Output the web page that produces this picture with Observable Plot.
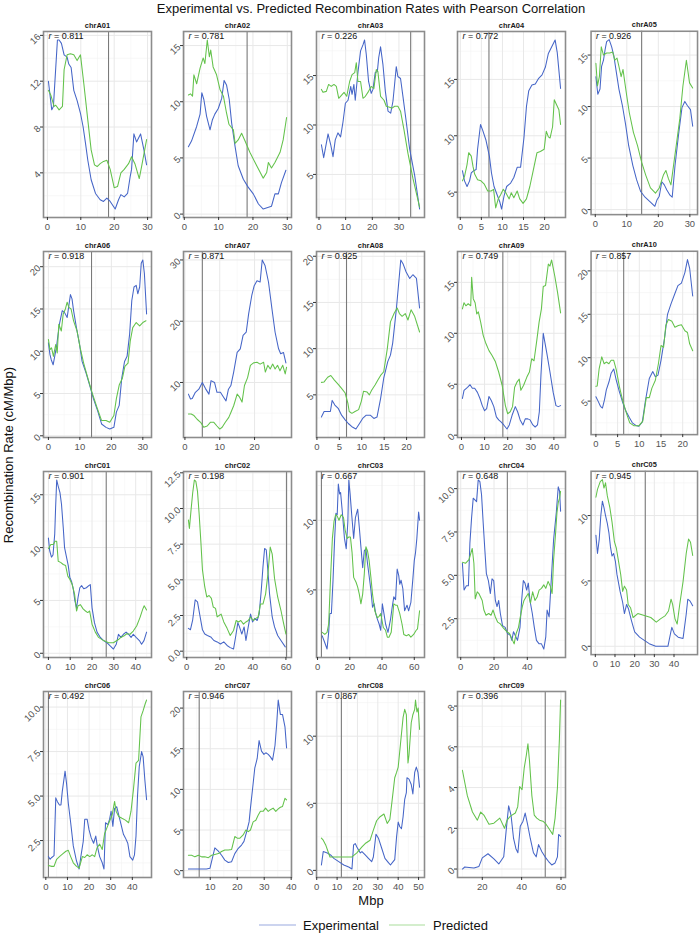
<!DOCTYPE html>
<html><head><meta charset="utf-8">
<script src="https://cdn.jsdelivr.net/npm/d3@7"></script>
<script src="https://cdn.jsdelivr.net/npm/@observablehq/plot@0.6"></script>
<style>
body{margin:0;background:#fff;font-family:"Liberation Sans",Arial,Helvetica,sans-serif;}
#root{position:relative;width:700px;height:936px;overflow:hidden;background:#fff;}
.panel{position:absolute;}
#overlay{position:absolute;left:0;top:0;}
</style></head><body><div id="root"></div>
<script>
// ---------------- DATA ----------------
const chroms = ["chrA01","chrA02","chrA03","chrA04","chrA05","chrA06","chrA07","chrA08","chrA09","chrA10",
                "chrC01","chrC02","chrC03","chrC04","chrC05","chrC06","chrC07","chrC08","chrC09"];
const pearsonR = ["0.811","0.781","0.226","0.772","0.926","0.918","0.871","0.925","0.749","0.857",
                  "0.901","0.198","0.667","0.648","0.945","0.492","0.946","0.867","0.396"];
const centromere = [18.3,18.3,34.4,6.8,14.7,13.7,5.0,6.6,17.9,6.4,26.5,60.4,2.4,28,25.4,1.2,5.9,12.1,52];

const xTickVals = [[0,10,20,30],[0,10,20,30],[0,10,20,30],[0,5,10,15,20],[0,10,20,30],
                   [0,10,20,30],[0,10,20],[0,5,10,15,20],[0,10,20,30,40],[0,5,10,15,20],
                   [0,10,20,30,40],[0,20,40,60],[0,20,40,60],[0,20,40],[0,10,20,30,40],
                   [0,10,20,30,40],[0,10,20,30,40],[0,10,20,30,40,50],[20,40,60]];
const yTickVals = [[4,8,12,16],[0,5,10,15],[5,10,15],[5,10,15],[0,5,10,15],
                   [0,5,10,15,20],[10,20,30],[5,10,15,20],[0,5,10,15],[5,10,15,20],
                   [0,5,10,15],[0,2.5,5,7.5,10,12.5],[5,10],[2.5,5,7.5,10],[0,5,10],
                   [2.5,5,7.5,10],[0,5,10,15,20],[0,5,10],[0,2,4,6,8]];
const yTickDecimals = [0,0,0,0,0,0,0,0,0,0,0,1,0,1,0,1,0,0,0];

const seriesNames = ["Experimental","Predicted"];

// [Mbp, cM/Mbp]
const A01_exp = [[0.3,12.0],[1.3,9.5],[1.8,9.8],[3.0,15.6],[3.5,15.6],[4.2,15.3],[5,14.3],[5.9,14.1],[6.4,13.5],[7.1,13.2],[7.9,11.2],[8.9,10.3],[9.9,9.2],[10.7,8.0],[11.4,6.6],[12.1,5.1],[13.1,3.4],[14.4,2.2],[15.8,1.65],[16.8,1.5],[17.8,1.8],[18.8,1.5],[20.3,0.84],[21.3,1.65],[22,2.1],[23,1.9],[24,2.2],[24.8,3.7],[25.2,4.3],[25.9,7.4],[26.7,6.7],[27.9,7.4],[28.9,6.0],[29.7,4.7]];
const A01_pred = [[0.3,11.2],[1,10.8],[2,9.8],[2.5,9.9],[3.5,9.5],[4.5,9.8],[5,13.0],[5.9,14.3],[6.9,14.4],[7.9,14.3],[8.9,13.8],[9.9,14.3],[10.9,11.8],[12.1,8.6],[13.1,6.0],[14.1,4.7],[14.9,4.55],[15.8,4.8],[16.8,5.0],[17.8,5.1],[18.8,4.3],[20,2.7],[21,2.8],[22,4.0],[23,4.3],[24.3,4.8],[25.2,5.4],[26.2,4.8],[27.5,3.5],[28.2,4.55],[29.7,6.9]];

const A02_exp = [[1.2,6.0],[2.1,6.5],[3.6,7.8],[4.6,8.9],[5.1,10.8],[5.7,10.2],[6.5,8.7],[7.5,7.5],[8.2,8.4],[8.9,8.9],[9.9,9.4],[10.9,10.3],[11.6,11.9],[12.3,11.5],[13.1,10.2],[13.8,8.1],[14.8,6.0],[15.7,4.3],[17.2,3.1],[18.6,2.4],[20.1,1.8],[21.6,0.9],[23,0.45],[25.4,0.7],[26.4,1.8],[27.4,1.8],[28.3,2.8],[29.6,3.9]];
const A02_pred = [[1.2,10.6],[1.8,10.7],[2.4,10.5],[2.8,12.4],[3.6,11.6],[4.6,13.0],[5.5,13.9],[6,13.4],[6.7,15.5],[7.3,14.0],[7.7,14.6],[8.4,13.1],[9.4,12.4],[10.4,11.1],[11.4,10.5],[12.3,9.0],[13,8.0],[14.3,7.5],[14.8,6.3],[15.7,6.6],[16.7,7.2],[17.7,6.5],[19.1,5.5],[21.1,4.3],[23,3.2],[24,3.7],[24.5,4.6],[25.4,4.1],[26.4,4.6],[27.9,5.5],[28.8,6.6],[29.8,8.6]];

const A03_exp = [[0.9,8.0],[1.75,6.7],[3.4,9.1],[4.4,8.0],[5.25,6.8],[6.1,8.5],[7.1,9.2],[8.1,8.8],[9,10.3],[9.9,12.2],[10.9,12.5],[11.9,13.9],[12.4,13.1],[13.1,14.1],[13.6,12.5],[14.6,15.3],[15.6,17.5],[16.5,18.1],[17.1,18.6],[17.75,17.1],[18.6,14.4],[19.6,13.2],[20.25,13.6],[21.1,15.3],[21.9,15.4],[22.4,16.8],[23.1,17.9],[24,16.1],[24.9,13.4],[25.9,11.4],[26.9,11.2],[27.75,12.4],[28.4,14.2],[29,15.9],[29.6,14.9],[30.6,14.7],[31.5,12.9],[32.75,10.3],[34,7.6],[35.9,4.9],[37.75,1.5]];
const A03_pred = [[0.9,13.6],[1.5,13.3],[2.75,13.4],[3.6,14.1],[4.6,13.9],[5.6,14.1],[6.5,13.9],[7.4,12.7],[8.4,13.0],[9.4,13.3],[10.4,12.9],[11.5,14.4],[12.4,15.1],[13.4,15.3],[14,16.3],[14.6,14.4],[15.6,14.4],[16.5,12.7],[17.4,12.9],[18.6,13.4],[19.6,13.9],[20.6,13.7],[21.5,15.6],[22.1,15.4],[23.1,12.9],[24.4,12.5],[25.25,11.9],[26.5,11.8],[27.4,11.7],[28.4,11.9],[29.6,11.9],[30.6,11.4],[31.9,9.5],[33.4,7.1],[35.25,4.6],[37.75,1.7]];

const A04_exp = [[0.5,6.9],[1.0,6.0],[1.6,5.5],[2.2,6.0],[2.6,6.7],[3.2,6.9],[3.75,7.0],[4.1,8.8],[4.8,11.0],[5.3,10.5],[6.1,9.6],[6.9,8.2],[7.4,6.7],[8.0,5.5],[8.8,4.7],[9.4,4.1],[9.8,3.5],[10.4,4.7],[11,5.5],[11.95,5.8],[12.7,6.3],[13.5,7.2],[14.3,7.2],[15.1,9.8],[15.7,12.6],[16.25,14.0],[17,14.5],[17.8,14.6],[18.6,15.1],[19.4,15.4],[20.2,16.1],[20.9,17.3],[21.7,17.9],[22.5,18.5],[23,17.4],[23.8,14.2]];
const A04_pred = [[0.5,6.0],[1.0,6.4],[1.6,7.45],[2.0,8.5],[2.6,8.2],[3.0,7.3],[3.4,6.6],[4.1,6.1],[4.9,6.0],[5.7,5.7],[6.5,5.1],[7.3,5.1],[7.9,5.25],[8.4,3.6],[9,4.4],[9.6,4.8],[10.2,5.25],[10.8,4.95],[11.6,4.4],[12.1,4.95],[12.7,4.5],[13.5,5.1],[14.1,4.4],[14.9,4.0],[15.7,4.4],[16.5,5.5],[17.3,6.9],[18.2,8.5],[19,8.6],[19.9,8.8],[20.4,10.4],[20.9,9.9],[21.3,9.8],[21.9,10.8],[22.3,13.2],[22.9,12.7],[23.4,12.3],[23.8,11.0]];

const A05_exp = [[0.2,12.9],[0.8,11.2],[1.5,11.7],[2,13.9],[2.6,14.5],[3.1,15.5],[3.6,16.3],[4.4,16.5],[5.2,15.8],[5.9,14.9],[6.7,13.3],[7.5,11.7],[8.6,10.1],[9.6,8.3],[10.6,6.2],[11.9,4.3],[13.1,2.9],[14.4,1.75],[15.8,1.2],[17.5,0.73],[18.9,0.32],[19.6,0.96],[20.3,1.3],[21.1,2.7],[21.9,2.4],[22.7,1.9],[23.7,1.4],[24.4,1.2],[25.3,4.3],[26.5,7.5],[27.5,9.9],[28.4,10.5],[29.2,10.1],[30.2,9.7],[30.9,8.1]];
const A05_pred = [[0.2,14.2],[0.7,12.0],[1.3,12.9],[1.9,15.8],[2.6,15.0],[3.6,15.2],[4.6,15.2],[5.5,15.3],[6.2,14.5],[6.9,14.7],[7.5,13.9],[8.2,12.9],[8.8,13.6],[9.3,12.5],[10,11.0],[10.8,9.4],[12.1,7.5],[13.4,6.2],[14.7,4.6],[16,3.35],[17.5,2.1],[19.1,1.6],[20.3,2.1],[21.6,3.35],[22.4,3.8],[23.2,3.0],[24,2.4],[24.7,4.0],[25.8,6.5],[26.8,8.8],[27.8,12.0],[28.9,14.5],[29.9,12.3],[30.9,11.8]];

const A06_exp = [[0,11.0],[0.5,9.6],[0.9,9.0],[1.5,8.4],[2,9.4],[2.6,10.6],[3,11.8],[3.6,13.4],[4.4,14.8],[5.1,14.6],[5.96,14.0],[6.5,15.4],[7,16.7],[7.5,16.2],[8,14.8],[8.9,12.8],[9.9,10.8],[10.7,8.8],[12,7.4],[13.1,6.0],[14.3,4.4],[15.6,3.0],[16.9,1.4],[18.3,1.0],[19.5,0.8],[20.8,1.0],[21.6,2.8],[22.5,3.6],[23.3,6.8],[24.2,8.8],[25,9.4],[25.8,12.0],[26.5,16.0],[27.2,17.6],[27.9,17.8],[28.4,16.8],[29,17.6],[29.5,20.4],[30,20.8],[30.5,19.2],[31.2,14.4]];
const A06_pred = [[0,11.4],[0.5,10.2],[1,10.4],[1.6,9.4],[2.3,10.8],[2.8,9.8],[3.3,13.2],[4.1,12.4],[4.7,14.4],[5.4,15.0],[5.96,15.8],[6.5,15.2],[7.2,15.0],[8,13.6],[9.1,12.4],[10.1,10.4],[11.2,8.6],[12.4,7.0],[13.8,5.2],[15.4,3.4],[16.9,1.8],[18.3,1.8],[19.5,1.6],[20.8,2.4],[21.6,4.4],[22.5,6.0],[23.5,6.8],[24.3,8.2],[25.3,8.6],[26,11.2],[26.8,12.8],[27.9,13.4],[29,13.0],[30,13.4],[31,13.6]];

const A07_exp = [[1,8.1],[1.6,7.3],[2.1,7.4],[3,8.4],[4,8.9],[5,10.0],[5.9,9.0],[6.9,8.1],[7.5,10.3],[8.5,10.0],[9.2,8.4],[10.2,8.4],[11.1,7.6],[11.8,7.0],[12.5,8.9],[13.2,9.5],[14,11.7],[15,14.9],[15.9,15.5],[16.7,17.7],[17.6,18.2],[18.3,21.2],[19.2,24.2],[19.9,25.8],[20.7,26.6],[21.6,26.4],[22.2,30.0],[23,29.1],[24,26.4],[25,22.0],[25.9,18.2],[26.9,15.5],[27.5,14.7],[28.3,14.9],[29,13.2]];
const A07_pred = [[1,4.85],[1.8,4.85],[2.6,4.6],[3.5,4.0],[4.5,3.5],[5.4,2.7],[6.4,2.9],[7.3,3.5],[8.3,3.5],[9.2,2.9],[10,2.4],[10.7,2.7],[11.6,3.5],[12.6,4.3],[13.2,5.1],[14,6.2],[15,8.1],[15.7,7.6],[16.4,6.8],[17.1,9.5],[18,10.8],[18.8,12.8],[19.7,13.2],[20.7,13.3],[21.6,13.0],[22.6,13.3],[23.1,11.7],[23.8,12.8],[24.5,12.2],[25.2,13.0],[25.9,12.2],[26.6,12.8],[27.3,11.9],[28.1,12.8],[28.8,11.4],[29.2,12.5]];

const A08_exp = [[1.0,2.6],[1.6,3.2],[2.4,3.2],[3.0,3.2],[3.4,4.4],[4.0,3.9],[4.8,3.5],[5.5,2.8],[6.3,2.3],[7.0,1.9],[7.8,1.55],[8.7,1.3],[9.5,1.9],[10.2,2.45],[11,2.8],[11.9,2.8],[12.7,2.45],[13.4,2.6],[14.2,4.6],[14.9,6.8],[15.8,8.6],[16.4,9.3],[16.9,10.6],[17.7,14.2],[18.7,19.6],[19.2,19.2],[19.9,18.3],[20.7,17.6],[21.4,18.0],[22.2,17.6],[22.9,14.4]];
const A08_pred = [[1.0,6.35],[1.6,6.4],[2.4,6.9],[3.1,7.1],[3.9,6.6],[4.8,6.1],[5.5,5.7],[6.3,5.2],[6.9,4.1],[7.2,3.2],[7.8,3.0],[8.5,3.2],[9.3,3.4],[9.9,4.3],[10.4,5.4],[11.2,5.3],[11.7,5.0],[12.2,5.5],[13,6.1],[13.6,6.6],[14.2,7.1],[14.9,7.5],[15.7,10.0],[16.4,12.9],[17.2,13.8],[17.9,14.4],[18.4,13.8],[19,13.5],[19.7,13.8],[20.3,13.1],[21,14.2],[21.8,13.5],[22.9,11.8]];

const A09_exp = [[0.4,3.6],[1.1,4.4],[2.6,4.7],[3.7,4.95],[4.7,4.6],[5.7,4.6],[6.9,4.2],[8,3.6],[9,2.9],[10,2.4],[10.9,2.6],[11.9,3.8],[12.9,3.4],[14,2.8],[15.1,1.8],[16.1,1.5],[17.1,1.3],[18.3,1.0],[19.7,0.6],[20.7,1.0],[21.9,1.95],[23.3,2.8],[24.3,2.3],[25.4,1.5],[26.6,1.0],[27.6,1.6],[28.7,1.6],[29.7,1.5],[30.9,1.0],[31.9,0.8],[32.9,1.0],[33.7,2.3],[34.4,5.9],[35.4,10.0],[36.9,8.1],[38.3,6.2],[39.7,4.2],[40.9,2.9],[41.9,2.8],[42.9,2.9]];
const A09_pred = [[0.4,12.4],[1.1,13.0],[1.9,12.7],[2.9,12.9],[4,12.7],[4.4,15.5],[5.1,13.4],[5.9,13.0],[6.6,11.9],[7.3,12.1],[8.3,11.1],[9.4,9.8],[10.4,9.1],[11.9,8.3],[13.3,7.8],[14.7,7.2],[16.1,6.2],[17.6,4.9],[19,2.9],[20,2.1],[21.1,2.3],[22.1,2.8],[23,4.7],[24,5.2],[25,5.5],[25.7,4.4],[26.9,4.9],[28.3,5.7],[29.4,6.2],[30.4,7.5],[31.4,7.3],[32.6,9.3],[33.6,11.1],[34.6,12.4],[35.4,14.6],[36.4,14.7],[37.6,16.8],[38.3,16.6],[39,17.2],[40.4,15.6],[41.6,14.0],[42.9,12.0]];

const A10_exp = [[0,5.5],[0.5,5.0],[1.05,4.4],[1.5,4.2],[2,5.2],[2.4,6.3],[3,7.2],[3.5,8.2],[4.1,8.7],[4.7,7.4],[5.4,6.1],[6.2,4.8],[6.9,3.85],[7.7,3.1],[8.4,2.5],[9.2,2.2],[9.9,2.1],[10.7,2.6],[11.4,5.0],[12.3,7.6],[13.1,8.4],[13.7,7.8],[14.3,8.0],[15,9.7],[15.8,12.2],[16.5,15.0],[17.3,16.2],[18.2,17.4],[18.9,18.3],[19.7,18.6],[20.5,19.8],[21.1,21.3],[21.6,20.3],[22.3,17.1]];
const A10_pred = [[0,6.7],[0.3,6.75],[0.75,8.75],[1.35,10.1],[1.9,9.3],[2.4,9.5],[3,9.3],[3.5,9.7],[4.1,9.7],[4.7,8.6],[5.4,6.7],[6.2,5.0],[7.1,3.5],[7.8,2.5],[8.8,2.15],[9.9,2.15],[10.8,2.7],[11.6,5.4],[12.3,5.4],[12.9,6.5],[13.7,7.4],[14.4,9.3],[15,11.4],[15.6,11.2],[16.1,13.7],[16.7,14.4],[17.5,14.2],[18.2,13.5],[19,13.7],[19.7,13.8],[20.5,13.1],[21.1,12.9],[21.6,11.6],[22.3,10.8]];

const C01_exp = [[0,10.9],[0.6,9.7],[1.4,9.1],[2.1,9.3],[2.9,11.3],[3.3,13.8],[3.8,16.4],[4.5,15.8],[5.3,15.2],[6,14.1],[6.8,11.9],[7.4,10.0],[8.2,9.2],[9.1,8.3],[9.8,7.2],[10.6,6.8],[11.4,6.1],[12.1,5.0],[12.9,4.3],[13.6,5.3],[14.4,6.2],[15.2,6.4],[16.2,6.1],[17.4,6.2],[18.5,6.4],[19.2,6.5],[20,4.3],[21.1,2.9],[22.3,2.0],[23.8,1.5],[25.3,1.2],[26.8,1.0],[28.3,0.7],[29.8,0.4],[31.1,0.85],[32.1,1.8],[33.2,1.5],[34.4,1.8],[35.6,2.0],[36.7,1.8],[37.9,1.5],[38.9,1.8],[40.2,1.5],[41.7,1.2],[42.7,0.85],[43.8,1.2],[45,2.0]];
const C01_pred = [[0,9.9],[1.1,10.3],[2.3,10.3],[3,10.6],[3.8,10.6],[4.5,8.7],[5.6,8.6],[6.8,8.4],[7.9,8.3],[8.9,7.3],[9.8,7.0],[10.9,6.5],[12,5.6],[12.9,4.0],[13.6,4.5],[14.7,4.6],[15.9,4.2],[17,4.0],[18,3.85],[18.9,4.0],[20,2.75],[21.5,2.0],[23,1.5],[25.3,1.2],[27.6,1.0],[29.8,1.0],[32.1,1.3],[33.2,1.5],[34.7,1.65],[35.9,1.85],[37.4,1.8],[38.9,2.1],[40.5,2.6],[42,3.4],[43.2,4.15],[43.9,4.5],[45,4.1]];

const C02_exp = [[1,1.6],[2.2,1.5],[3.6,2.2],[5.1,3.6],[6.5,3.45],[8.1,2.4],[9.5,1.5],[10.9,1.2],[12.5,1.1],[14.5,1.0],[16.4,0.75],[18.4,0.65],[20.4,0.5],[22.4,0.65],[24.4,0.4],[26.3,0.25],[28.3,0.15],[29.7,1.1],[30.9,2.0],[31.9,1.7],[33.3,1.2],[34.7,1.7],[35.8,0.75],[37.2,1.7],[38.6,2.6],[39.8,2.05],[41.2,2.3],[42.6,2.15],[43.8,2.6],[45.1,4.3],[46.1,5.9],[47.1,7.2],[48.1,7.1],[49.1,5.6],[50.1,4.0],[51.7,2.4],[53.1,1.7],[55,1.1],[57,0.75],[59.6,0.3]];
const C02_pred = [[1,9.2],[1.6,8.6],[2.6,9.9],[3.6,11.1],[4.6,12.0],[5.5,11.9],[6.5,11.2],[7.5,9.6],[8.5,7.75],[9.5,5.7],[10.9,4.5],[12.1,3.8],[13.5,3.9],[14.9,3.7],[16,3.1],[17.4,3.0],[18.4,2.4],[19.6,2.5],[20.8,2.6],[22.4,2.05],[24.4,1.6],[26.3,1.1],[28.3,1.45],[29.9,2.15],[31.3,2.05],[32.7,2.15],[34.3,1.9],[35.8,2.05],[37.2,2.15],[38.6,2.4],[40.2,2.15],[41.8,2.3],[43.2,2.4],[44.6,3.3],[46.1,3.3],[47.7,4.0],[49.1,5.4],[50.5,7.3],[51.7,6.8],[53.1,5.1],[55,3.8],[57,2.85],[58.4,2.05],[60,1.2]];

const C03_exp = [[2.9,1.7],[4.5,1.2],[5.9,0.75],[6.9,1.95],[7.6,3.3],[8.6,3.3],[9.6,5.7],[10.6,8.65],[11.4,10.5],[12.2,10.4],[12.9,12.6],[13.7,11.9],[14.3,12.0],[15.3,10.7],[16.7,8.7],[17.8,7.95],[18.8,9.9],[19.4,12.9],[20.2,11.9],[21.2,10.4],[22.4,8.7],[23.5,10.2],[24.9,10.8],[25.9,9.5],[26.9,8.1],[28,6.6],[29,7.8],[30,7.95],[31,6.9],[32,6.0],[33.1,5.0],[34.1,3.75],[35.1,4.0],[36.1,3.3],[37.1,2.9],[38.2,2.55],[39.2,2.1],[40.2,4.0],[41.2,3.3],[42.2,2.55],[43.7,1.95],[45.3,2.9],[46.3,3.75],[47.3,4.5],[48.4,4.3],[49.4,6.5],[50.4,6.0],[51,5.4],[51.8,5.7],[52.9,5.1],[54,3.5],[55.5,3.9],[56.5,3.5],[57.9,4.1],[59.2,5.9],[60,7.1],[60.8,7.7],[61.6,8.7],[62.7,10.6],[63.3,10.0]];
const C03_pred = [[2.9,1.95],[4.5,1.8],[5.9,1.95],[6.9,2.55],[8.2,6.2],[9.2,8.7],[10.2,9.9],[11.2,10.4],[12.2,10.3],[13.3,10.0],[14.7,10.4],[16.1,10.2],[17.1,9.3],[18.4,8.7],[19.4,8.8],[20.4,8.8],[21.4,7.7],[22.4,5.9],[23.9,5.55],[24.9,5.2],[25.9,4.7],[26.9,4.0],[28,4.7],[29,6.15],[30,8.1],[31,7.8],[32,7.1],[33.1,5.9],[34.1,4.7],[35.5,3.5],[37.1,3.0],[38.2,3.1],[39.2,3.3],[40.8,2.3],[42.2,2.1],[43.3,1.6],[44.3,1.6],[45.7,1.95],[47.3,4.0],[48.4,3.9],[49.4,3.9],[51,3.3],[52.4,2.55],[53.5,1.8],[55.1,1.7],[56.5,1.8],[57.9,1.6],[59.6,1.8],[61.2,2.1],[62,2.2],[63.3,3.5]];

const C04_exp = [[1,5.7],[2,4.15],[3.4,4.4],[4.6,4.4],[5.5,6.85],[6.5,8.3],[7.5,9.45],[8.5,9.35],[9.5,9.25],[10.5,10.5],[11.5,10.4],[12.5,9.65],[13.5,8.0],[14.5,6.45],[15.4,5.1],[16.6,4.7],[17.8,3.95],[18.8,4.8],[19.8,4.7],[20.8,3.55],[21.8,3.2],[22.8,3.55],[23.8,2.8],[25.1,2.1],[26.7,2.0],[28.1,1.65],[29.7,1.55],[30.7,1.25],[31.7,1.75],[32.7,1.55],[34.1,1.25],[35.6,2.0],[36.6,3.55],[37.6,4.7],[38.6,4.55],[39.6,4.15],[40.6,4.55],[41.6,3.55],[43,2.8],[44.2,2.0],[45.5,1.25],[47.1,1.05],[48.5,1.05],[49.9,0.75],[51.1,1.45],[51.9,3.0],[53.1,2.6],[54.5,4.9],[55.8,7.05],[57.4,8.6],[58.6,10.1],[59.4,9.85],[60,8.7]];
const C04_pred = [[1,5.75],[2.97,5.7],[4.95,5.9],[6.9,6.55],[7.9,5.7],[8.7,3.65],[9.9,4.05],[10.9,3.95],[11.9,3.75],[12.9,3.55],[13.9,3.0],[15.2,2.7],[16.8,2.8],[18.2,2.7],[19.4,3.0],[20.8,2.6],[22.2,2.3],[23.8,2.2],[25.7,1.95],[27.7,1.75],[29.3,1.65],[30.7,1.35],[32.1,1.05],[33.3,1.65],[34.7,2.0],[35.6,2.5],[37,3.2],[38,3.55],[39.2,3.75],[40.6,3.95],[41.9,3.4],[43.2,4.05],[44.6,3.55],[45.9,3.75],[47.1,4.15],[48.5,4.25],[49.9,4.45],[51.1,4.25],[52.5,4.65],[53.9,4.35],[54.9,3.95],[55.8,5.9],[57,7.45],[57.8,8.6],[58.6,9.2],[59.4,9.45],[60,9.85]];

const C05_exp = [[0.3,8.5],[1.1,7.1],[2,8.2],[2.8,10.0],[3.6,11.1],[4.4,10.6],[5.2,10.0],[6.1,9.4],[6.9,8.7],[7.7,7.6],[8.5,6.9],[9.3,7.1],[10.2,6.5],[11,5.5],[12.6,4.2],[13.9,3.35],[14.8,2.5],[15.9,3.2],[16.9,2.85],[18.4,1.95],[20,1.1],[22.5,0.7],[24.9,0.45],[27.4,0.2],[30.7,0.0],[33.9,0.0],[36.9,0.0],[38.4,1.1],[38.9,1.45],[40.2,0.95],[42.1,0.7],[44.6,0.6],[46.2,2.45],[47,3.6],[48.2,3.45],[49.5,3.1]];
const C05_pred = [[0.3,11.4],[1.1,12.0],[2.5,12.6],[3.6,12.75],[4.4,12.1],[5.2,12.5],[6.1,11.5],[7.4,10.6],[8.5,9.5],[9.7,8.0],[10.7,7.5],[11.8,6.5],[12.9,5.5],[13.9,4.2],[14.8,4.6],[15.9,4.3],[16.7,3.2],[17.9,2.95],[19.2,2.2],[21.6,2.5],[24.9,2.35],[28.2,2.2],[31,1.85],[33.1,2.1],[35.6,2.35],[37.2,2.7],[38.5,3.6],[39.3,3.2],[40.5,2.1],[41.6,1.7],[42.9,3.2],[44.6,4.95],[46.2,7.1],[47.4,8.2],[48.4,7.95],[49.5,6.95]];

const C06_exp = [[1.2,1.6],[2,1.45],[2.75,1.55],[3.8,1.65],[4.6,4.9],[5.3,4.7],[6.3,4.5],[7,4.5],[7.6,5.25],[8.9,6.4],[9.6,5.7],[10.4,4.6],[11.5,3.5],[12.7,2.2],[14.2,1.35],[15.4,0.9],[16.2,1.6],[17.3,2.45],[18,3.7],[19.1,3.7],[20,3.1],[21,2.65],[22.1,2.35],[23.1,2.75],[23.8,2.2],[24.9,1.6],[26.1,1.25],[26.9,0.9],[27.6,3.5],[28.7,3.4],[29.5,3.7],[30.2,4.15],[31,3.3],[31.8,4.3],[32.8,4.4],[33.7,3.95],[34.8,3.4],[35.9,2.85],[36.8,2.65],[37.9,2.35],[38.9,1.6],[40.2,1.4],[41,1.7],[41.7,2.75],[42.4,5.0],[43.2,6.65],[44.3,7.5],[45,7.2],[45.8,5.9],[46.6,4.8]];
const C06_pred = [[1.2,1.1],[2.75,1.05],[3.8,1.05],[5,1.45],[6.3,1.6],[7.8,1.75],[9.3,1.9],[10.4,1.95],[11.5,1.6],[12.7,1.25],[14.2,1.05],[15.4,0.95],[16.9,1.6],[18,1.55],[19.1,1.7],[20.3,1.6],[21.5,1.7],[22.6,1.6],[23.7,2.1],[24.9,2.3],[26.1,2.0],[27.2,2.9],[28.2,3.2],[29.5,3.6],[30.7,3.95],[31.8,4.7],[32.5,4.15],[33.7,3.85],[35.2,3.75],[36.8,3.65],[38.3,3.5],[39.4,4.15],[40.5,5.35],[41.7,6.85],[42.9,7.0],[44,9.45],[45,9.8],[46,10.2],[46.6,10.4]];

const C07_exp = [[1.9,0.2],[3.7,0.2],[6.2,0.2],[8.6,0.2],[9.9,0.3],[11.7,2.8],[13,2.4],[14.2,1.9],[15.4,1.3],[16.7,1.0],[17.9,1.1],[19.1,2.1],[20.4,2.75],[21.6,3.15],[22.5,3.6],[23.5,4.8],[24.4,6.0],[24.9,7.7],[25.7,10.1],[26.5,12.6],[27.4,13.8],[28.1,16.0],[29,14.7],[29.9,14.3],[30.6,14.5],[31.5,14.3],[32.3,14.0],[33.1,13.6],[34,15.4],[34.6,17.9],[35.2,21.0],[36,19.2],[36.8,19.2],[37.7,17.7],[38.3,15.1]];
const C07_pred = [[1.9,1.9],[3.1,1.9],[4.3,1.7],[5.6,1.9],[6.8,1.7],[8,1.7],[9.3,1.6],[10.5,1.9],[11.7,2.0],[13,2.1],[14.2,2.35],[15.4,2.55],[16.7,2.55],[17.9,2.6],[19.1,4.2],[20,4.0],[21,4.0],[22.2,4.4],[23.2,5.0],[24.1,4.8],[24.9,5.0],[25.9,6.0],[26.9,6.2],[27.8,6.85],[28.6,7.3],[29.6,7.3],[30.5,7.7],[31.5,7.3],[32.3,7.5],[33.3,7.7],[34.3,7.3],[35.2,7.6],[36,7.8],[36.8,7.9],[37.7,8.9],[38.3,8.7]];

const C08_exp = [[2.3,0.4],[3.2,1.4],[5.2,1.3],[6.8,1.15],[8.4,0.9],[10.8,0.65],[13.3,0.4],[15.7,0.25],[17.3,0.1],[18.1,1.9],[18.9,2.0],[19.7,1.75],[21.4,1.3],[22.2,1.4],[23.8,1.15],[25.4,0.9],[27,0.65],[27.8,1.0],[29.1,2.7],[30.3,2.4],[31.9,1.65],[33.5,0.9],[35.1,0.6],[36.2,0.4],[37.5,0.65],[38.3,0.8],[39.2,2.5],[40,3.6],[40.8,3.25],[41.6,3.1],[42.4,4.0],[43.2,5.3],[44,5.8],[44.3,6.9],[45.3,6.8],[46.4,6.4],[47.2,5.7],[48.1,7.3],[48.9,7.7],[49.7,7.3],[50.5,6.2]];
const C08_pred = [[2.3,2.4],[3.2,2.25],[4.4,1.9],[6.5,1.0],[10,1.0],[14.9,1.0],[17.3,1.0],[19.7,1.3],[22.2,1.75],[23.8,2.0],[26.2,2.25],[27.8,3.0],[29.4,3.7],[31.1,4.0],[33,4.2],[34.6,3.5],[35.9,3.8],[37,5.2],[38.3,6.9],[39.2,7.3],[40,7.7],[41.1,9.4],[42.4,11.4],[43.2,12.0],[44,11.6],[44.8,8.0],[45.3,8.6],[46.4,11.0],[47.2,11.6],[48.1,12.0],[48.5,12.7],[49.2,11.8],[49.8,12.1],[50.5,10.5]];

const C09_exp = [[9.9,0.0],[11.1,0.1],[13.3,0.08],[15.8,0.05],[18.3,0.13],[20,0.55],[22.9,0.75],[25.9,0.5],[28.4,0.25],[30.9,0.6],[32.1,1.85],[33.4,3.1],[34.6,2.65],[35.9,1.5],[37.1,1.0],[38.1,0.8],[39.3,2.1],[40.7,2.35],[41.8,2.75],[43,2.2],[44.4,1.5],[46,0.8],[47.4,0.6],[48.6,1.2],[50.3,0.85],[51.9,0.6],[53.6,0.38],[55.3,0.2],[57,0.3],[58.2,0.6],[58.8,1.7],[59.8,1.6]];
const C09_pred = [[9.9,4.85],[12.4,3.6],[15,2.8],[17.5,2.4],[19.2,2.8],[20.8,2.65],[23.4,2.2],[25.9,2.25],[28.9,2.5],[31.3,2.0],[32.6,2.4],[34.3,2.6],[36.8,2.75],[38,3.05],[39,4.05],[40.2,3.9],[41.3,4.95],[42.4,5.6],[43.2,6.15],[44,5.3],[45.2,3.6],[46.4,2.65],[47.7,2.5],[49.1,2.4],[50.8,2.35],[52.4,2.2],[54.1,1.95],[55.8,1.7],[57,2.5],[58.2,4.0],[59.2,6.4],[59.8,8.3]];

const experimental = [A01_exp,A02_exp,A03_exp,A04_exp,A05_exp,A06_exp,A07_exp,A08_exp,A09_exp,A10_exp,
                      C01_exp,C02_exp,C03_exp,C04_exp,C05_exp,C06_exp,C07_exp,C08_exp,C09_exp];
const predicted = [A01_pred,A02_pred,A03_pred,A04_pred,A05_pred,A06_pred,A07_pred,A08_pred,A09_pred,A10_pred,
                   C01_pred,C02_pred,C03_pred,C04_pred,C05_pred,C06_pred,C07_pred,C08_pred,C09_pred];

// ---------------- LAYOUT / STYLE ----------------
const FONT = '"Liberation Sans", Arial, Helvetica, sans-serif';
const BLUE = "#4565c7", GREEN = "#63c24b";
const colLeft = [43,183,316,457,591];
const rowTop = [31,251,471,691];
const PW = 108, PH = 186;
const ML = 30, MR = 3, MT = 16, MB = 22;

function expand([a,b]){ const r = b - a; return [a - 0.05*r, b + 0.05*r]; }
function minors(t, dom){
  const s = t.length > 1 ? t[1]-t[0] : 1;
  const out = [];
  for (let v = t[0] - s*5.5; v <= dom[1]; v += s) if (v >= dom[0]) out.push(v);
  return out;
}

const root = document.getElementById("root");

chroms.forEach((name, i) => {
  const exp = experimental[i], pred = predicted[i];
  const allX = exp.map(d=>d[0]).concat(pred.map(d=>d[0]), [centromere[i]]);
  const allY = exp.map(d=>d[1]).concat(pred.map(d=>d[1]));
  const xd = expand(d3.extent(allX)), yd = expand(d3.extent(allY));
  const xt = xTickVals[i].filter(v => v >= xd[0] && v <= xd[1]);
  const yt = yTickVals[i].filter(v => v >= yd[0] && v <= yd[1]);
  const fmt = yTickDecimals[i] ? d3.format(".1f") : (d => String(d));
  const svg = Plot.plot({
    width: PW + ML + MR, height: PH + MT + MB,
    marginLeft: ML, marginRight: MR, marginTop: MT, marginBottom: MB,
    x: {domain: xd}, y: {domain: yd},
    style: {fontFamily: FONT, background: "transparent", overflow: "visible"},
    marks: [
      Plot.gridX(minors(xTickVals[i], xd), {stroke: "#f3f3f3", strokeOpacity: 1, strokeWidth: 0.6}),
      Plot.gridY(minors(yTickVals[i], yd), {stroke: "#f3f3f3", strokeOpacity: 1, strokeWidth: 0.6}),
      Plot.gridX(xt, {stroke: "#e8e8e8", strokeOpacity: 1, strokeWidth: 1}),
      Plot.gridY(yt, {stroke: "#e8e8e8", strokeOpacity: 1, strokeWidth: 1}),
      Plot.ruleX([centromere[i]], {stroke: "#7a7a7a", strokeWidth: 1.1}),
      Plot.line(exp, {x: d => d[0], y: d => d[1], stroke: BLUE, strokeWidth: 1.05}),
      Plot.line(pred, {x: d => d[0], y: d => d[1], stroke: GREEN, strokeWidth: 1.05}),
      Plot.frame({stroke: "#8c8c8c", strokeWidth: 1.6}),
      Plot.axisX({ticks: xt, tickSize: 3, tickPadding: 3, fontSize: 9.5, stroke: "#333", fill: "#555", label: null}),
      Plot.axisY({ticks: yt, tickSize: 3, tickPadding: 1.5, tickRotate: -45, tickFormat: fmt, fontSize: 9.5, stroke: "#333", fill: "#555", label: null}),
      Plot.text([name], {frameAnchor: "top", lineAnchor: "bottom", dy: -4, text: d => d, fontWeight: "bold", fontSize: 7.5, fill: "#1a1a1a"}),
      Plot.text(["r"], {frameAnchor: "top-left", lineAnchor: "top", dx: 5, dy: 1, text: d => d, fontStyle: "italic", fontSize: 9, fill: "#111"}),
      Plot.text(["= " + pearsonR[i]], {frameAnchor: "top-left", lineAnchor: "top", dx: 10.5, dy: 1, text: d => d, fontSize: 9, fill: "#111"})
    ]
  });
  const div = document.createElement("div");
  div.className = "panel";
  div.style.left = (colLeft[i % 5] - ML) + "px";
  div.style.top = (rowTop[Math.floor(i / 5)] - MT) + "px";
  div.appendChild(svg);
  root.appendChild(div);
});

// titles, axis labels, legend
const ov = document.createElementNS("http://www.w3.org/2000/svg", "svg");
ov.setAttribute("id", "overlay");
ov.setAttribute("width", 700); ov.setAttribute("height", 936);
ov.style.pointerEvents = "none";
ov.innerHTML = `
<g font-family='${FONT}' fill="#111">
  <text x="371" y="12.5" text-anchor="middle" font-size="13">Experimental vs. Predicted Recombination Rates with Pearson Correlation</text>
  <text x="371" y="905" text-anchor="middle" font-size="13">Mbp</text>
  <text transform="translate(12.5,455) rotate(-90)" text-anchor="middle" font-size="13">Recombination Rate (cM/Mbp)</text>
  <line x1="259" x2="296" y1="925" y2="925" stroke="${BLUE}" stroke-opacity="0.55" stroke-width="1.2"/>
  <text x="303" y="929.5" font-size="13">${seriesNames[0]}</text>
  <line x1="389" x2="425" y1="925" y2="925" stroke="${GREEN}" stroke-opacity="0.55" stroke-width="1.2"/>
  <text x="433" y="929.5" font-size="13">${seriesNames[1]}</text>
</g>`;
root.appendChild(ov);
</script></body></html>
